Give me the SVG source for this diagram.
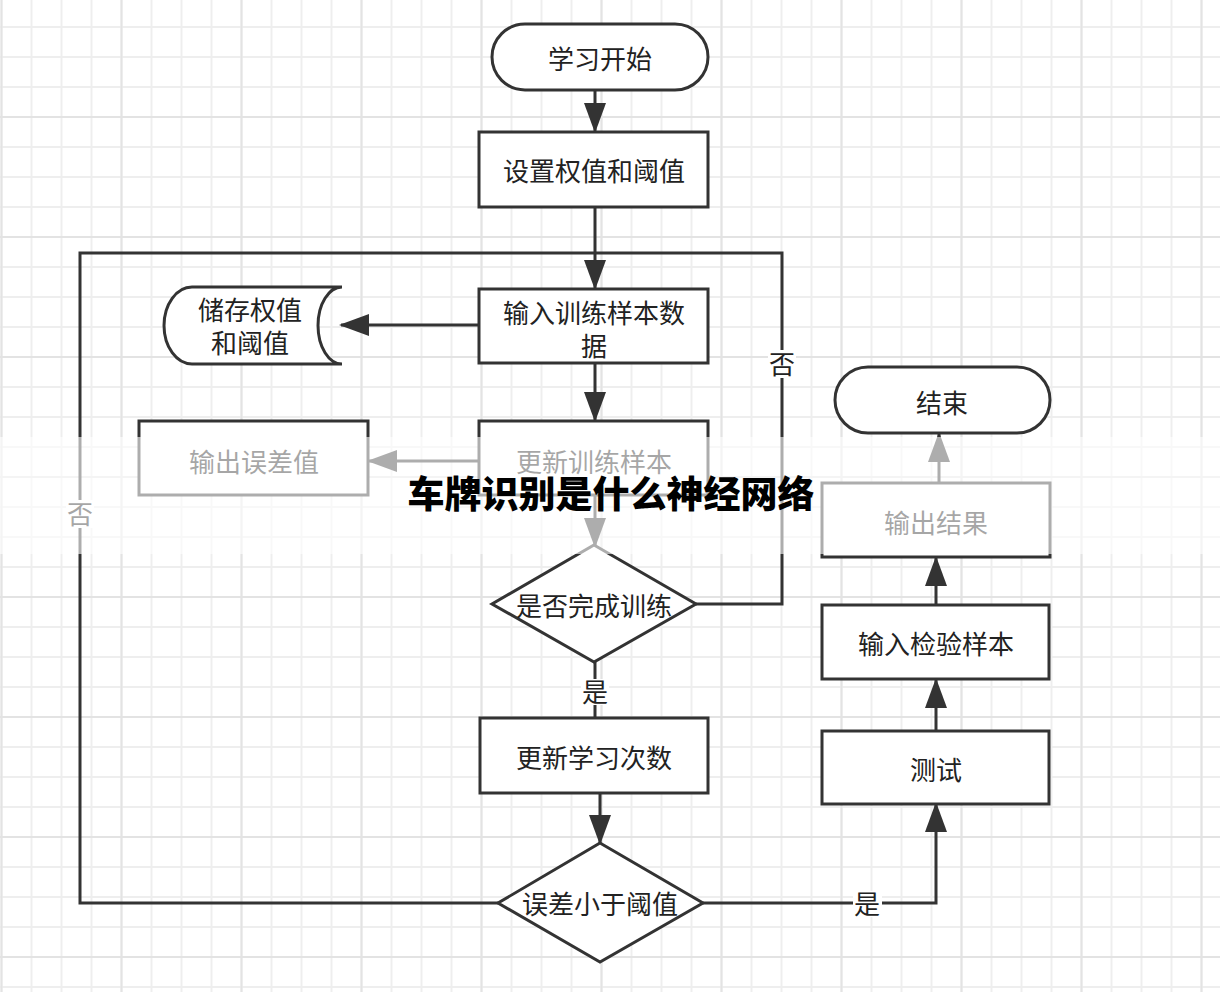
<svg xmlns="http://www.w3.org/2000/svg" width="1220" height="992" viewBox="0 0 1220 992">
  <defs>
    <pattern id="gridMinor" patternUnits="userSpaceOnUse" x="-13.5" y="-18" width="30" height="30">
      <path d="M15,0 L15,30 M0,15 L30,15" stroke="#eeeeee" stroke-width="2" fill="none"/>
    </pattern>
    <pattern id="gridMajor" patternUnits="userSpaceOnUse" x="-58.5" y="-63" width="120" height="120">
      <path d="M60,0 L60,120 M0,60 L120,60" stroke="#e3e3e3" stroke-width="2" fill="none"/>
    </pattern>
    <marker id="arrow" markerUnits="userSpaceOnUse" markerWidth="30" markerHeight="22" refX="28" refY="11" orient="auto">
      <path d="M0,0 L30,11 L0,22 Z" fill="#333"/>
    </marker>
    <style>
      .shape { fill: #fff; stroke: #333; stroke-width: 3; }
      .conn { fill: none; stroke: #333; stroke-width: 3; }
      .lbl { font-family: "Noto Sans CJK SC", "Liberation Sans", sans-serif; font-size: 26px; fill: #222; text-anchor: middle; dominant-baseline: central; }
      .lbl2 { font-family: "Noto Sans CJK SC", "Liberation Sans", sans-serif; font-size: 26px; fill: #222; text-anchor: middle; }
      .lblbg { fill: #fff; }
      .title { font-family: "Noto Sans CJK SC", "Liberation Sans", sans-serif; font-size: 37px; font-weight: 900; fill: #000; text-anchor: middle; dominant-baseline: central; }
    </style>
  </defs>

  <rect x="0" y="0" width="1220" height="992" fill="#fff"/>
  <rect x="0" y="0" width="1220" height="992" fill="url(#gridMinor)"/>
  <rect x="0" y="0" width="1220" height="992" fill="url(#gridMajor)"/>

  <g id="connectors">
    <path class="conn" d="M595,91 L595,131" marker-end="url(#arrow)"/>
    <path class="conn" d="M595,207 L595,288" marker-end="url(#arrow)"/>
    <path class="conn" d="M498,903 L80,903 L80,253 L595,253"/>
    <path class="conn" d="M696,604 L782,604 L782,253 L595,253"/>
    <path class="conn" d="M479,325 L405,325 L341,325" marker-end="url(#arrow)"/>
    <path class="conn" d="M595,363 L595,420" marker-end="url(#arrow)"/>
    <path class="conn" d="M479,461 L369,461" marker-end="url(#arrow)"/>
    <path class="conn" d="M595,496 L595,546" marker-end="url(#arrow)"/>
    <path class="conn" d="M595,662 L595,718"/>
    <path class="conn" d="M600,794 L600,843" marker-end="url(#arrow)"/>
    <path class="conn" d="M703,903 L936,903 L936,804" marker-end="url(#arrow)"/>
    <path class="conn" d="M936,732 L936,680" marker-end="url(#arrow)"/>
    <path class="conn" d="M936,605 L936,558" marker-end="url(#arrow)"/>
    <path class="conn" d="M939,483 L939,434" marker-end="url(#arrow)"/>
    <rect class="lblbg" x="768" y="350" width="28" height="28"/>
    <text class="lbl" x="782" y="362">否</text>
    <rect class="lblbg" x="66" y="500" width="28" height="28"/>
    <text class="lbl" x="80" y="512">否</text>
    <rect class="lblbg" x="581" y="679" width="28" height="26"/>
    <text class="lbl" x="595" y="690">是</text>
    <rect class="lblbg" x="853" y="891" width="29" height="26"/>
    <text class="lbl" x="867" y="902">是</text>
  </g>

  <g id="start">
    <rect class="shape" x="492" y="24" width="216" height="66" rx="33" ry="33"/>
    <text class="lbl" x="600" y="57">学习开始</text>
  </g>
  <g id="set-weights">
    <rect class="shape" x="479" y="132" width="229" height="75"/>
    <text class="lbl" x="594" y="169">设置权值和阈值</text>
  </g>
  <g id="input-training">
    <rect class="shape" x="479" y="289" width="229" height="74"/>
    <text class="lbl2" x="594" y="323">输入训练样本数</text>
    <text class="lbl2" x="594" y="356">据</text>
  </g>
  <g id="store-weights">
    <path class="shape" d="M192,287 L342,287 A24,38.5 0 0 0 342,364 L192,364 A28,38.5 0 0 1 192,287 Z"/>
    <text class="lbl2" x="250" y="320">储存权值</text>
    <text class="lbl2" x="250" y="353">和阈值</text>
  </g>
  <g id="output-error">
    <rect class="shape" x="139" y="421" width="229" height="74"/>
    <text class="lbl" x="254" y="460">输出误差值</text>
  </g>
  <g id="update-samples">
    <rect class="shape" x="479" y="421" width="229" height="74"/>
    <text class="lbl" x="594" y="460">更新训练样本</text>
  </g>
  <g id="training-done">
    <polygon class="shape" points="594,545 696,604 594,662 492,604"/>
    <text class="lbl" x="594" y="604">是否完成训练</text>
  </g>
  <g id="update-count">
    <rect class="shape" x="480" y="718" width="228" height="75"/>
    <text class="lbl" x="594" y="756">更新学习次数</text>
  </g>
  <g id="error-check">
    <polygon class="shape" points="600,843 703,903 600,962 498,903"/>
    <text class="lbl" x="600" y="902">误差小于阈值</text>
  </g>
  <g id="end">
    <rect class="shape" x="835" y="367" width="215" height="66" rx="33" ry="33"/>
    <text class="lbl" x="942" y="401">结束</text>
  </g>
  <g id="output-result">
    <rect class="shape" x="822" y="483" width="228" height="74"/>
    <text class="lbl" x="936" y="521">输出结果</text>
  </g>
  <g id="input-test">
    <rect class="shape" x="822" y="605" width="227" height="74"/>
    <text class="lbl" x="936" y="642">输入检验样本</text>
  </g>
  <g id="test">
    <rect class="shape" x="822" y="731" width="227" height="73"/>
    <text class="lbl" x="936" y="768">测试</text>
  </g>

  <rect x="0" y="437" width="1220" height="117" fill="#fff" fill-opacity="0.6"/>
  <text class="title" x="611" y="492">车牌识别是什么神经网络</text>
</svg>
